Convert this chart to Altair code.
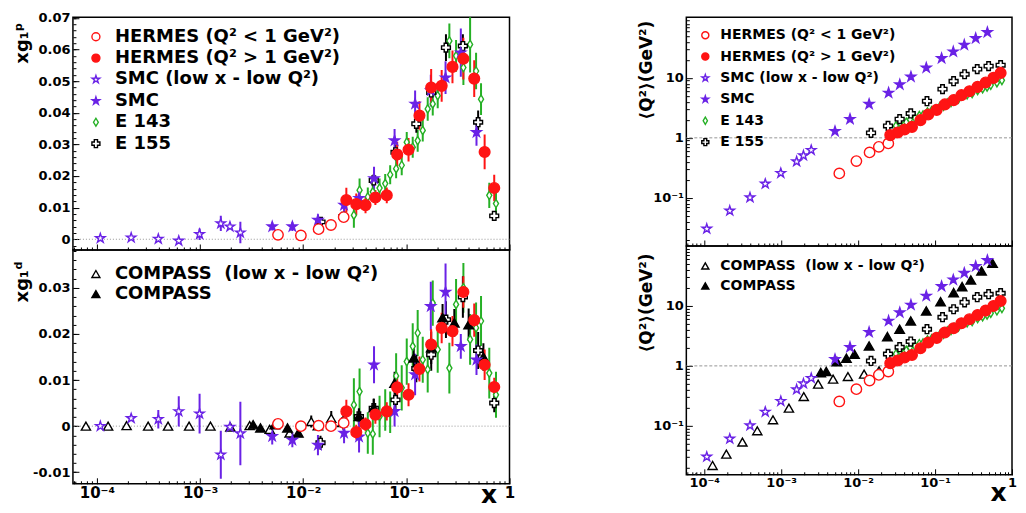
import altair as alt
import pandas as pd

FONT = "DejaVu Sans"

# ---------------- series names ----------------
S_HLO = "HERMES (Q² < 1 GeV²)"
S_HHI = "HERMES (Q² > 1 GeV²)"
S_SLO = "SMC (low x - low Q²)"
S_SMC = "SMC"
S_E143 = "E 143"
S_E155 = "E 155"
S_CLO = "COMPASS\u00a0 (low x - low Q²)"
S_CMP = "COMPASS"

# ---------------- data ----------------
# HERMES  Q2 < 1 GeV2
hlo_x = [0.0057, 0.0095, 0.0141, 0.0186, 0.0247]
hlo_q2 = [0.255, 0.409, 0.571, 0.708, 0.807]
hlo_g1p = [0.0014, 0.0012, 0.0032, 0.0045, 0.0070]
hlo_g1p_err = [0.0008, 0.0008, 0.0010, 0.0012, 0.0014]
hlo_g1d = [0.0005, 0.0000, 0.0001, 0.0000, 0.0007]
hlo_g1d_err = [0.0006, 0.0006, 0.0007, 0.0008, 0.0010]

# HERMES  Q2 > 1 GeV2
hhi_x = [0.0262, 0.0327, 0.0402, 0.0501, 0.0646, 0.0815, 0.105, 0.134, 0.174, 0.220, 0.280, 0.357, 0.455, 0.574, 0.711]
hhi_q2 = [1.11, 1.23, 1.38, 1.52, 1.97, 2.45, 2.93, 3.61, 4.25, 5.15, 6.00, 7.08, 8.37, 10.0, 12.1]
hhi_g1p = [0.0124, 0.0111, 0.0108, 0.0132, 0.0139, 0.0268, 0.0283, 0.0391, 0.0480, 0.0485, 0.0545, 0.0571, 0.0508, 0.0276, 0.0162]
hhi_g1p_err = [0.0039, 0.0034, 0.0026, 0.0024, 0.0025, 0.0040, 0.0037, 0.0045, 0.0058, 0.0050, 0.0052, 0.0066, 0.0058, 0.0055, 0.0042]
hhi_g1d = [0.0032, -0.0013, 0.0004, 0.0025, 0.0032, 0.0084, 0.0068, 0.0124, 0.0177, 0.0213, 0.0206, 0.0291, 0.0230, 0.0133, 0.0085]
hhi_g1d_err = [0.0025, 0.0016, 0.0015, 0.0020, 0.0020, 0.0025, 0.0025, 0.0027, 0.0033, 0.0033, 0.0033, 0.0034, 0.0036, 0.0033, 0.0020]

# SMC low x - low Q2
slo_x = [0.000108, 0.000215, 0.000394, 0.000622, 0.00099, 0.00159, 0.00195, 0.00246]
slo_q2 = [0.0304, 0.0607, 0.101, 0.171, 0.258, 0.403, 0.507, 0.624]
slo_g1p = [0.0003, 0.0005, 0.0001, -0.0005, 0.0016, 0.0050, 0.0040, 0.0021]
slo_g1p_err = [0.0005, 0.0005, 0.0005, 0.0006, 0.0018, 0.0024, 0.0008, 0.0034]
slo_g1d = [0.0000, 0.0017, 0.0015, 0.0032, 0.0027, -0.0062, -0.0002, -0.0016]
slo_g1d_err = [0.0005, 0.0006, 0.0020, 0.0033, 0.0043, 0.0052, 0.0008, 0.0069]

# SMC
smc_x = [0.00501, 0.00785, 0.0139, 0.0249, 0.0348, 0.0486, 0.0769, 0.1216, 0.1726, 0.2399, 0.3373, 0.4786]
smc_q2 = [1.29, 2.05, 3.65, 5.62, 7.76, 10.4, 14.7, 21.3, 27.4, 35.5, 45.9, 57.8]
smc_g1p = [0.0040, 0.0040, 0.0061, 0.0108, 0.0130, 0.0192, 0.0312, 0.0428, 0.0470, 0.0511, 0.0590, 0.0338]
smc_g1p_err = [0.0012, 0.0014, 0.0018, 0.0029, 0.0030, 0.0037, 0.0037, 0.0042, 0.0050, 0.0052, 0.0076, 0.0042]
smc_g1d = [-0.0022, -0.0030, -0.0041, -0.0015, -0.0023, 0.0133, 0.0032, 0.0112, 0.0260, 0.0291, 0.0173, 0.0144]
smc_g1d_err = [0.0018, 0.0016, 0.0022, 0.0022, 0.0034, 0.0040, 0.0033, 0.0045, 0.0053, 0.0062, 0.0027, 0.0033]

# E 143
e143_x = [0.0310, 0.0352, 0.0423, 0.0473, 0.0550, 0.0624, 0.0697, 0.0796, 0.0902, 0.1009, 0.1153, 0.1288,
          0.1442, 0.1611, 0.1803, 0.2014, 0.2612, 0.3034, 0.3573, 0.4150, 0.4742, 0.5297, 0.6368, 0.7396]
e143_q2 = [1.58, 1.78, 1.82, 2.04, 2.14, 2.34, 2.40, 2.69, 2.82, 3.02, 3.31, 3.39,
           3.80, 3.89, 4.37, 4.47, 5.25, 5.50, 6.17, 6.61, 7.08, 7.59, 8.32, 9.12]
e143_g1p = [0.0076, 0.0155, 0.0134, 0.0150, 0.0162, 0.0176, 0.0204, 0.0223, 0.0234, 0.0307, 0.0291, 0.0312,
            0.0344, 0.0412, 0.0428, 0.0454, 0.0627, 0.0580, 0.0543, 0.0616, 0.0532, 0.0443, 0.0139, 0.0113]
e143_g1p_err = [0.0040, 0.0037, 0.0030, 0.0030, 0.0030, 0.0030, 0.0030, 0.0030, 0.0032, 0.0032, 0.0033, 0.0035,
                0.0035, 0.0037, 0.0037, 0.0040, 0.0055, 0.0050, 0.0055, 0.0089, 0.0058, 0.0050, 0.0040, 0.0035]
e143_g1d = [0.0046, 0.0075, -0.0015, -0.0017, 0.0021, 0.0035, 0.0030, 0.0109, 0.0083, 0.0140, 0.0173, 0.0202,
            0.0144, 0.0123, 0.0267, 0.0166, 0.0126, 0.0264, 0.0300, 0.0188, 0.0213, 0.0228, 0.0115, 0.0068]
e143_g1d_err = [0.0058, 0.0050, 0.0045, 0.0045, 0.0045, 0.0045, 0.0045, 0.0049, 0.0049, 0.0050, 0.0050, 0.0050,
                0.0050, 0.0050, 0.0049, 0.0050, 0.0055, 0.0055, 0.0054, 0.0055, 0.0055, 0.0054, 0.0055, 0.0050]

# E 155
e155_x = [0.01472, 0.02449, 0.03467, 0.04831, 0.07852, 0.1250, 0.1742, 0.2421, 0.3532, 0.4966, 0.7112]
e155_q2 = [1.21, 1.58, 2.05, 2.55, 4.09, 6.49, 8.81, 11.5, 14.0, 15.7, 16.3]
e155_g1p = [0.0055, 0.0071, 0.0114, 0.0186, 0.0275, 0.0365, 0.0464, 0.0606, 0.0611, 0.0370, 0.0074]
e155_g1p_err = [0.0010, 0.0012, 0.0015, 0.0020, 0.0025, 0.0028, 0.0035, 0.0042, 0.0037, 0.0037, 0.0015]
e155_g1d = [-0.0036, 0.0007, 0.0021, 0.0039, 0.0057, 0.0125, 0.0155, 0.0231, 0.0280, 0.0164, 0.0050]
e155_g1d_err = [0.0015, 0.0015, 0.0018, 0.0020, 0.0022, 0.0030, 0.0035, 0.0040, 0.0045, 0.0040, 0.0020]

# COMPASS low x - low Q2 (deuteron only)
clo_x = [7.83e-5, 1.285e-4, 1.941e-4, 3.141e-4, 4.898e-4, 7.834e-4, 1.262e-3, 1.968e-3, 3.027e-3, 4.732e-3,
         7.379e-3, 0.01197, 0.01871]
clo_q2 = [0.0135, 0.0218, 0.0337, 0.0535, 0.0826, 0.126, 0.197, 0.308, 0.495, 0.600, 0.664, 0.728, 0.826]
clo_g1d = [0.0000, 0.0000, 0.0001, 0.0000, 0.0000, 0.0000, 0.0000, -0.0002, 0.0001, -0.0007, -0.0015, 0.0010, 0.0017]
clo_g1d_err = [0.0002, 0.0002, 0.0002, 0.0002, 0.0003, 0.0003, 0.0004, 0.0005, 0.0006, 0.0008, 0.0010, 0.0013, 0.0016]

# COMPASS (deuteron only)
cmp_x = [0.003273, 0.003855, 0.005309, 0.007047, 0.008974, 0.01390, 0.02399, 0.03467, 0.04831, 0.07691,
         0.1180, 0.1742, 0.2244, 0.2917, 0.4018, 0.5585]
cmp_q2 = [0.773, 0.804, 1.18, 1.34, 1.57, 2.15, 3.08, 4.09, 5.62, 8.26, 11.8, 16.7, 21.0, 27.1, 38.3, 51.5]
cmp_g1d = [0.0003, -0.0004, 0.0003, -0.0004, -0.0015, 0.0001, 0.0008, 0.0021, 0.0040, 0.0093, 0.0148, 0.0170,
           0.0235, 0.0224, 0.0220, 0.0150]
cmp_g1d_err = [0.0003, 0.0003, 0.0004, 0.0005, 0.0006, 0.0008, 0.0012, 0.0015, 0.0020, 0.0025, 0.0030, 0.0035,
               0.0030, 0.0030, 0.0035, 0.0030]

# ---------------- styles ----------------
RED, PUR, GRN, BLK = "#ff1414", "#6a22e6", "#25b025", "#000000"
STAR = ("M0,-1L0.2245,-0.309L0.9511,-0.309L0.3633,0.118L0.5878,0.809L0,0.382"
        "L-0.5878,0.809L-0.3633,0.118L-0.9511,-0.309L-0.2245,-0.309Z")
DIAM = "M0,-1L0.6,0L0,1L-0.6,0Z"

SER = [S_HLO, S_HHI, S_SLO, S_SMC, S_E143, S_E155, S_CLO, S_CMP]
STROKES = [RED, RED, PUR, PUR, GRN, BLK, BLK, BLK]
FILLS = ["white", RED, "white", PUR, "white", "white", "white", BLK]
SHAPES = ["circle", "circle", STAR, STAR, DIAM, "cross", "triangle-up", "triangle-up"]
SIZES = [58, 75, 120, 60, 72, 115, 95, 95]

# drawing order (later on top)
ORDER = [S_E143, S_E155, S_CLO, S_CMP, S_SLO, S_SMC, S_HLO, S_HHI]

# size / error colour scales use differently ordered domains so that they do not merge into the legend
SIZE_DOM = ORDER
SIZE_RNG = [SIZES[SER.index(s)] for s in ORDER]
ERR_DOM = SER[::-1]
ERR_RNG = STROKES[::-1]

SERIES = {
    S_HLO: dict(x=hlo_x, q2=hlo_q2, p=hlo_g1p, pe=hlo_g1p_err, d=hlo_g1d, de=hlo_g1d_err),
    S_HHI: dict(x=hhi_x, q2=hhi_q2, p=hhi_g1p, pe=hhi_g1p_err, d=hhi_g1d, de=hhi_g1d_err),
    S_SLO: dict(x=slo_x, q2=slo_q2, p=slo_g1p, pe=slo_g1p_err, d=slo_g1d, de=slo_g1d_err),
    S_SMC: dict(x=smc_x, q2=smc_q2, p=smc_g1p, pe=smc_g1p_err, d=smc_g1d, de=smc_g1d_err),
    S_E143: dict(x=e143_x, q2=e143_q2, p=e143_g1p, pe=e143_g1p_err, d=e143_g1d, de=e143_g1d_err),
    S_E155: dict(x=e155_x, q2=e155_q2, p=e155_g1p, pe=e155_g1p_err, d=e155_g1d, de=e155_g1d_err),
    S_CLO: dict(x=clo_x, q2=clo_q2, p=None, pe=None, d=clo_g1d, de=clo_g1d_err),
    S_CMP: dict(x=cmp_x, q2=cmp_q2, p=None, pe=None, d=cmp_g1d, de=cmp_g1d_err),
}


def build(kind, names):
    rows = []
    k = 0
    for name in ORDER:
        if name not in names:
            continue
        s = SERIES[name]
        for i, xv in enumerate(s["x"]):
            if kind == "q2":
                rows.append(dict(series=name, x=xv, y=s["q2"][i], lo=s["q2"][i], hi=s["q2"][i], ord=k))
            else:
                v, e = s[kind][i], s[kind + "e"][i]
                rows.append(dict(series=name, x=xv, y=v, lo=v - e, hi=v + e, ord=k))
            k += 1
    return pd.DataFrame(rows)


SIX = [S_HLO, S_HHI, S_SLO, S_SMC, S_E143, S_E155]
df_p = build("p", SIX)
df_d = build("d", SER)
df_qt = build("q2", SIX)
df_qb = build("q2", SER)

# ---------------- axes helpers ----------------
XDOM = [5.86e-5, 1.0]
X_MAJ = [1e-4, 1e-3, 1e-2, 1e-1, 1.0]
X_MIN = [round(m * 10.0 ** k, 12) for k in range(-5, 0) for m in range(2, 10)
         if XDOM[0] <= m * 10.0 ** k <= 1.0]
XLAB = ("datum.value < 3e-4 ? '10⁻⁴' : datum.value < 3e-3 ? '10⁻³' : "
        "datum.value < 3e-2 ? '10⁻²' : datum.value < 0.3 ? '10⁻¹' : '1'")
QLAB = "datum.value < 0.3 ? '10⁻¹' : datum.value < 3 ? '1' : '10'"
LINLAB = "abs(datum.value) < 1e-9 ? '0' : (datum.value < 0 ? '-' : '') + format(abs(datum.value), '.2f')"
TMAJ, TMIN = 6, 3


def x_major(labels, fs=15, title=None, tx=0, ty=0):
    kw = dict(orient="bottom", values=X_MAJ, offset=-TMAJ, tickSize=TMAJ, tickColor="black",
              tickWidth=1, domain=False, grid=False, labels=labels)
    if labels:
        kw.update(labelExpr=XLAB, labelFont=FONT, labelFontSize=fs, labelFontWeight="bold",
                  labelColor="black", labelPadding=2, labelFlush=False, labelOverlap=False)
    if title:
        kw.update(title=title, titleFont=FONT, titleFontSize=25, titleFontWeight="bold",
                  titleColor="black", titleX=tx, titleY=ty, titleAlign="center",
                  titleBaseline="alphabetic", titleAngle=0)
    else:
        kw["title"] = None
    return alt.Axis(**kw)


def minor_axis(orient, values):
    return alt.Axis(orient=orient, values=values, offset=-TMIN, tickSize=TMIN, tickColor="black",
                    tickWidth=1, domain=False, grid=False, labels=False, title=None)


def y_major(values, expr, title, tx, ty, fs=13, tfs=18):
    return alt.Axis(orient="left", values=values, offset=-TMAJ, tickSize=TMAJ, tickColor="black",
                    tickWidth=1, domain=False, grid=False, labelExpr=expr, labelFont=FONT,
                    labelFontSize=fs, labelFontWeight="bold", labelColor="black", labelPadding=3,
                    labelOverlap=False, labelFlush=False,
                    title=title, titleFont=FONT, titleFontSize=tfs, titleFontWeight="bold",
                    titleColor="black", titleAngle=270, titleAlign="right", titleBaseline="alphabetic",
                    titleX=tx, titleY=ty)


def legend(values, lx, ly, fs, sym, rowpad, loff):
    return alt.Legend(values=values, orient="none", legendX=lx, legendY=ly, title=None, padding=0,
                      labelFont=FONT, labelFontSize=fs, labelFontWeight="bold", labelColor="black",
                      labelLimit=600, symbolSize=sym, symbolStrokeWidth=1.4, rowPadding=rowpad,
                      labelOffset=loff, direction="vertical")


def panel(df, ydom, ylog, ymaj_axis, ymin_vals, xmaj_axis, leg, w, h, refval, refdash, errors):
    xs = alt.Scale(type="log", domain=XDOM, nice=False)
    ys = alt.Scale(type="log" if ylog else "linear", domain=ydom, nice=False, zero=False)
    dummy = alt.Chart(pd.DataFrame({"x": [0.01], "y": [refval]})).mark_point(opacity=0).encode(
        x=alt.X("x:Q", scale=xs, axis=minor_axis("bottom", X_MIN)),
        y=alt.Y("y:Q", scale=ys, axis=minor_axis("left", ymin_vals)),
    )
    ref = alt.Chart(pd.DataFrame({"y": [refval]})).mark_rule(
        color="#8a8a8a", strokeDash=refdash, strokeWidth=0.9
    ).encode(y=alt.Y("y:Q", scale=ys, axis=None))
    layers = [dummy, ref]
    if errors:
        err = alt.Chart(df).mark_rule(strokeWidth=2, clip=True).encode(
            x=alt.X("x:Q", scale=xs, axis=None),
            y=alt.Y("lo:Q", scale=ys, axis=None),
            y2="hi:Q",
            color=alt.Color("series:N", scale=alt.Scale(domain=ERR_DOM, range=ERR_RNG), legend=None),
        )
        layers.append(err)
    pts = alt.Chart(df).mark_point(filled=True, opacity=1, strokeWidth=1.4, clip=True).encode(
        x=alt.X("x:Q", scale=xs, axis=xmaj_axis),
        y=alt.Y("y:Q", scale=ys, axis=ymaj_axis),
        shape=alt.Shape("series:N", scale=alt.Scale(domain=SER, range=SHAPES), legend=leg),
        fill=alt.Fill("series:N", scale=alt.Scale(domain=SER, range=FILLS), legend=leg),
        stroke=alt.Stroke("series:N", scale=alt.Scale(domain=SER, range=STROKES), legend=leg),
        size=alt.Size("series:N", scale=alt.Scale(domain=SIZE_DOM, range=SIZE_RNG), legend=None),
        order=alt.Order("ord:Q"),
    )
    layers.append(pts)
    return alt.layer(*layers).resolve_axis(x="independent", y="independent").properties(width=w, height=h)


# left column geometry
WL, HTL, HBL = 437, 233, 234
# right column geometry
WR, HTR, HBR = 326, 229, 229

YP_MAJ = [0.0, 0.01, 0.02, 0.03, 0.04, 0.05, 0.06, 0.07]
YP_MIN = [round(0.002 * i, 3) for i in range(-1, 36)]
YD_MAJ = [-0.01, 0.0, 0.01, 0.02, 0.03]
YD_MIN = [round(0.002 * i, 3) for i in range(-6, 20)]
Q_MAJ = [0.1, 1.0, 10.0]
Q_MIN = [round(m * 10.0 ** k, 6) for k in range(-2, 2) for m in range(2, 10)]

tl = panel(df_p, [-0.0034, 0.0702], False,
           y_major(YP_MAJ, LINLAB, "xg₁ᵖ", -51, 5),
           YP_MIN, x_major(False),
           legend(SIX, 14, 10.5, 18, 64, 3.4, 10),
           WL, HTL, 0, [1, 2], True)

bl = panel(df_d, [-0.0125, 0.0382], False,
           y_major(YD_MAJ, LINLAB, "xg₁ᵈ", -51, 11),
           YD_MIN, x_major(True, fs=15, title="x", tx=416, ty=25),
           legend([S_CLO, S_CMP], 14, 15, 18, 64, 2.2, 10),
           WL, HBL, 0, [1, 2], True)

tr = panel(df_qt, [0.01567, 102.8], True,
           y_major(Q_MAJ, QLAB, "⟨Q²⟩(GeV²)", -41, 3, fs=13, tfs=17),
           Q_MIN, x_major(False),
           legend(SIX, 12, 11, 14, 50, 7.4, 8),
           WR, HTR, 1, [3, 2], False)

br = panel(df_qb, [0.01524, 100.0], True,
           y_major(Q_MAJ, QLAB, "⟨Q²⟩(GeV²)", -41, 7, fs=13, tfs=17),
           Q_MIN, x_major(True, fs=13, title="x", tx=312, ty=32),
           legend([S_CLO, S_CMP], 12, 13, 14, 50, 6, 8),
           WR, HBR, 1, [3, 2], False)

RS = dict(x="independent", y="independent", color="independent", fill="independent",
          stroke="independent", shape="independent", size="independent")
RL = dict(fill="independent", stroke="independent", shape="independent")

left = alt.vconcat(tl, bl, spacing=0, bounds="flush").resolve_scale(**RS).resolve_legend(**RL)
right = alt.vconcat(tr, br, spacing=0, bounds="flush").resolve_scale(**RS).resolve_legend(**RL)

chart = (
    alt.hconcat(left, right, spacing=121, bounds="full")
    .resolve_scale(**RS)
    .resolve_legend(**RL)
    .properties(padding={"left": 5, "top": 2, "right": 0, "bottom": 0}, background="white")
    .configure(font=FONT)
    .configure_view(stroke="black", strokeWidth=1.5)
)

chart.save("out.html", embed_options={"renderer": "svg", "actions": False})
